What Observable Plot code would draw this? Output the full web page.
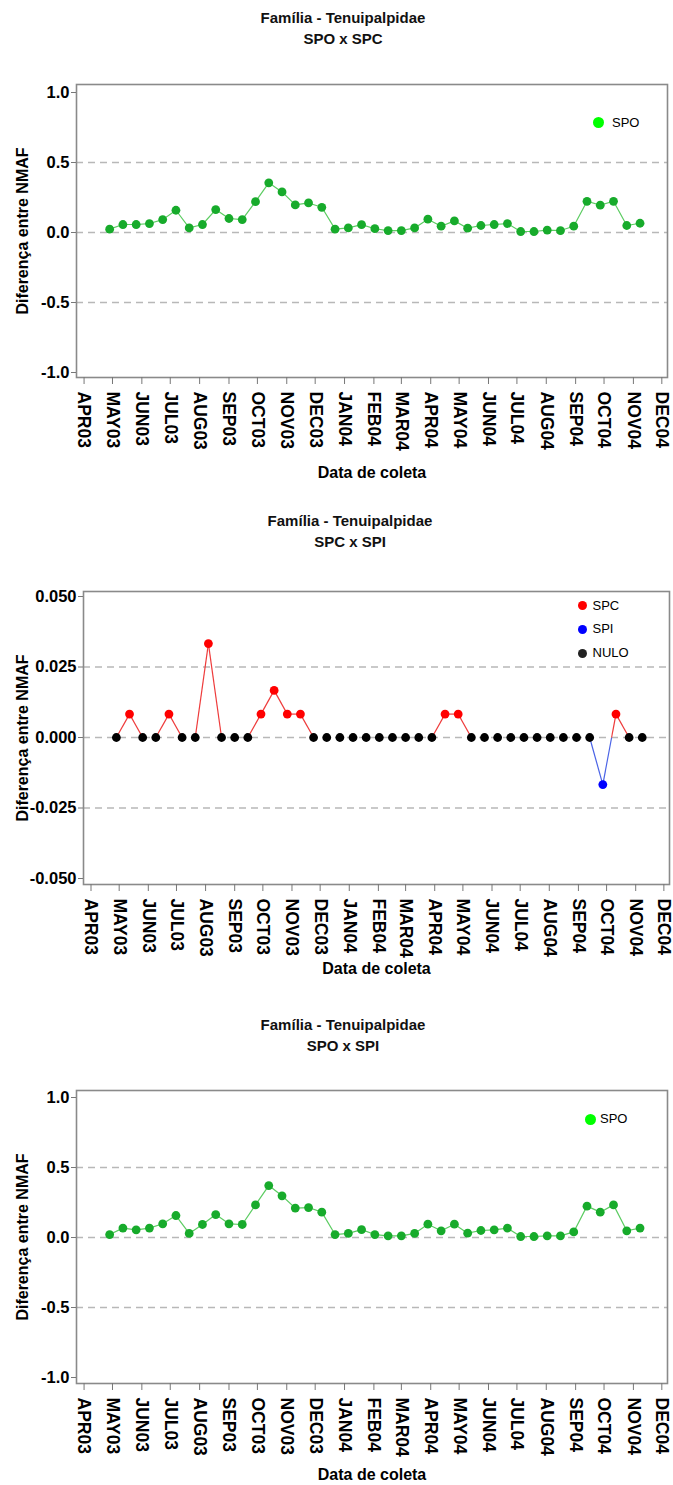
<!DOCTYPE html>
<html>
<head>
<meta charset="utf-8">
<script src="https://cdn.jsdelivr.net/npm/d3@7"></script>
<script src="https://cdn.jsdelivr.net/npm/@observablehq/plot@0.6"></script>
<style>
  body { margin: 0; background: #fff; font-family: "Liberation Sans", Arial, sans-serif; }
  #page { position: relative; width: 673px; height: 1485px; overflow: hidden; background: #fff; }
  .title { position: absolute; transform: translateX(-50%); text-align: center; font-weight: bold;
           font-size: 15px; line-height: 21px; white-space: nowrap; color: #111; }
  .panel { position: absolute; left: 0; }
  .lg { position: absolute; font-size: 13px; color: #000; line-height: 16px; white-space: nowrap; }
  .lgdot { position: absolute; border-radius: 50%; }
</style>
</head>
<body>
<div id="page"></div>
<script>
// ---------- data ----------
const sampleDates = [
  "2003-04-28","2003-05-12","2003-05-26","2003-06-09","2003-06-23","2003-07-07","2003-07-21",
  "2003-08-04","2003-08-18","2003-09-01","2003-09-15","2003-09-29","2003-10-13","2003-10-27",
  "2003-11-10","2003-11-24","2003-12-08","2003-12-22","2004-01-05","2004-01-19","2004-02-02",
  "2004-02-16","2004-03-01","2004-03-15","2004-03-29","2004-04-12","2004-04-26","2004-05-10",
  "2004-05-24","2004-06-07","2004-06-21","2004-07-05","2004-07-19","2004-08-02","2004-08-16",
  "2004-08-30","2004-09-13","2004-09-27","2004-10-11","2004-10-25","2004-11-08"
];
const spoVsSpc = [0.024,0.057,0.057,0.064,0.092,0.159,0.033,0.057,0.164,0.100,0.092,0.220,0.355,0.290,
  0.197,0.211,0.180,0.024,0.033,0.056,0.027,0.014,0.014,0.033,0.095,0.045,0.083,0.031,0.050,0.057,
  0.064,0.007,0.007,0.017,0.014,0.045,0.223,0.195,0.223,0.050,0.066];
const spcVsSpi = [0,0.0083,0,0,0.0083,0,0,0.0333,0,0,0,0.0083,0.0167,0.0083,0.0083,
  0,0,0,0,0,0,0,0,0,0,0.0083,0.0083,0,0,0,0,0,0,0,0,0,0,-0.0167,0.0083,0,0];
const spoVsSpi = [0.021,0.067,0.055,0.067,0.098,0.157,0.029,0.093,0.164,0.098,0.093,0.233,0.371,0.298,
  0.210,0.214,0.181,0.021,0.029,0.056,0.021,0.012,0.012,0.029,0.095,0.048,0.095,0.031,0.050,0.055,
  0.067,0.007,0.007,0.012,0.012,0.040,0.224,0.181,0.233,0.048,0.067];

const monthTicks = ["2003-04-01","2003-05-01","2003-06-01","2003-07-01","2003-08-01","2003-09-01",
  "2003-10-01","2003-11-01","2003-12-01","2004-01-01","2004-02-01","2004-03-01","2004-04-01",
  "2004-05-01","2004-06-01","2004-07-01","2004-08-01","2004-09-01","2004-10-01","2004-11-01","2004-12-01"];
const monthLabels = ["APR03","MAY03","JUN03","JUL03","AUG03","SEP03","OCT03","NOV03","DEC03","JAN04",
  "FEB04","MAR04","APR04","MAY04","JUN04","JUL04","AUG04","SEP04","OCT04","NOV04","DEC04"];

const yTicksWide = [1.0, 0.5, 0.0, -0.5, -1.0];
const yGridWide = [0.5, 0.0, -0.5];
const yTicksNarrow = [0.050, 0.025, 0.000, -0.025, -0.050];
const yGridNarrow = [0.025, 0.000, -0.025];

const titleText = "Família - Tenuipalpidae";
const subtitles = ["SPO x SPC", "SPC x SPI", "SPO x SPI"];
const legendSPO = ["SPO"];
const legendSPC = ["SPC", "SPI", "NULO"];
const xLabel = "Data de coleta";
const yLabel = "Diferença entre NMAF";

// ---------- helpers ----------
const parse = d3.utcParse("%Y-%m-%d");
const tickDates = monthTicks.map(parse);
const labelByTime = new Map(tickDates.map((d, i) => [+d, monthLabels[i]]));
const xDomain = [parse("2003-03-24"), parse("2004-12-07")];
const page = document.getElementById("page");

function rows(values) {
  return sampleDates.map((d, i) => ({date: parse(d), v: values[i]}));
}

function makePlot({marginLeft, marginRight, insetTop, insetBottom, yDomain, yTicks, yGrid, fmt, xLabelOffset, marks}) {
  return Plot.plot({
    width: 673,
    height: 413,
    marginTop: 10,
    marginBottom: 110,
    marginLeft, marginRight,
    style: {fontFamily: "'Liberation Sans', Arial, sans-serif", fontWeight: "bold", fontSize: "16px",
            color: "#000", background: "transparent"},
    x: {type: "utc", domain: xDomain},
    y: {domain: yDomain, insetTop, insetBottom},
    marks: [
      Plot.ruleY(yGrid, {stroke: "#b8b8b8", strokeWidth: 1.5, strokeDasharray: "7,5"}),
      Plot.frame({stroke: "#8a8a8a", strokeWidth: 1.6}),
      Plot.axisY(yTicks, {tickFormat: fmt, tickSize: 5, tickPadding: 2, stroke: "#777", fill: "#000",
        fontSize: 16.5, label: null}),
      Plot.axisY([], {fill: "#000", fontSize: 16, label: yLabel, labelAnchor: "center",
        labelOffset: marginLeft - 16, labelArrow: "none"}),
      Plot.axisX(tickDates, {tickFormat: d => labelByTime.get(+d), tickRotate: 90, tickSize: 7, tickPadding: 7,
        stroke: "#777", fill: "#000", fontSize: 17.5, label: null}),
      Plot.axisX([], {fill: "#000", fontSize: 16, label: xLabel, labelAnchor: "center",
        labelOffset: xLabelOffset, labelArrow: "none"}),
      ...marks
    ]
  });
}

function addPanel(top, svg) {
  const div = document.createElement("div");
  div.className = "panel";
  div.style.top = top + "px";
  div.appendChild(svg);
  page.appendChild(div);
}
function addTitle(cx, top, sub) {
  const t = document.createElement("div");
  t.className = "title";
  t.style.left = cx + "px";
  t.style.top = top + "px";
  t.innerHTML = titleText + "<br>" + sub;
  page.appendChild(t);
}
function addLegend(items, colors, dotX, textX, ys, r) {
  items.forEach((label, i) => {
    const dot = document.createElement("div");
    dot.className = "lgdot";
    dot.style.width = dot.style.height = (2 * r) + "px";
    dot.style.left = (dotX - r) + "px";
    dot.style.top = (ys[i] - r) + "px";
    dot.style.background = colors[i];
    page.appendChild(dot);
    const t = document.createElement("div");
    t.className = "lg";
    t.style.left = textX + "px";
    t.style.top = (ys[i] - 8) + "px";
    t.textContent = label;
    page.appendChild(t);
  });
}

const dotGreen = "#17ab2b";
const lineGreen = "#5ccc62";

// ---------- panel 1 ----------
addTitle(343, 6.5, subtitles[0]);
addPanel(74, makePlot({
  marginLeft: 76, marginRight: 6, insetTop: 8, insetBottom: 5, xLabelOffset: 100,
  yDomain: [-1, 1], yTicks: yTicksWide, yGrid: yGridWide, fmt: d => d.toFixed(1),
  marks: [
    Plot.line(rows(spoVsSpc), {x: "date", y: "v", stroke: lineGreen, strokeWidth: 1.2}),
    Plot.dot(rows(spoVsSpc), {x: "date", y: "v", r: 4.4, fill: dotGreen})
  ]
}));
addLegend(legendSPO, ["#00ff00"], 598.5, 612, [122.5], 5.5);

// ---------- panel 2 ----------
const d2 = rows(spcVsSpi).map(d => ({...d, cat: d.v > 0 ? "SPC" : d.v < 0 ? "SPI" : "NULO"}));
const segs = [];
for (let i = 0; i < d2.length - 1; i++) {
  const a = d2[i], b = d2[i + 1];
  if (a.v === 0 && b.v === 0) continue;
  if (a.v >= 0 && b.v >= 0) segs.push({x1: a.date, y1: a.v, x2: b.date, y2: b.v, c: "SPC"});
  else if (a.v <= 0 && b.v <= 0) segs.push({x1: a.date, y1: a.v, x2: b.date, y2: b.v, c: "SPI"});
  else {
    const t = a.v / (a.v - b.v);
    const xc = new Date(+a.date + t * (b.date - a.date));
    segs.push({x1: a.date, y1: a.v, x2: xc, y2: 0, c: a.v > 0 ? "SPC" : "SPI"});
    segs.push({x1: xc, y1: 0, x2: b.date, y2: b.v, c: b.v > 0 ? "SPC" : "SPI"});
  }
}
const lineCol = {SPC: "#ee3b3b", SPI: "#4a63e6"};
const dotCol = {SPC: "#ff0000", SPI: "#0000ff", NULO: "#000000"};
addTitle(350, 509.5, subtitles[1]);
addPanel(580.5, makePlot({
  marginLeft: 83, marginRight: 4, insetTop: 5, insetBottom: 6, xLabelOffset: 89,
  yDomain: [-0.05, 0.05], yTicks: yTicksNarrow, yGrid: yGridNarrow, fmt: d => d.toFixed(3),
  marks: [
    Plot.link(segs, {x1: "x1", y1: "y1", x2: "x2", y2: "y2", stroke: d => lineCol[d.c], strokeWidth: 1.2}),
    Plot.dot(d2, {x: "date", y: "v", r: 4.4, fill: d => dotCol[d.cat]})
  ]
}));
addLegend(legendSPC, [dotCol.SPC, dotCol.SPI, "#222"], 582.7, 592.5, [605.7, 629.3, 653.3], 4.8);

// ---------- panel 3 ----------
addTitle(343, 1013.5, subtitles[2]);
addPanel(1080, makePlot({
  marginLeft: 76, marginRight: 6, insetTop: 7, insetBottom: 6, xLabelOffset: 96,
  yDomain: [-1, 1], yTicks: yTicksWide, yGrid: yGridWide, fmt: d => d.toFixed(1),
  marks: [
    Plot.line(rows(spoVsSpi), {x: "date", y: "v", stroke: lineGreen, strokeWidth: 1.2}),
    Plot.dot(rows(spoVsSpi), {x: "date", y: "v", r: 4.4, fill: dotGreen})
  ]
}));
addLegend(legendSPO, ["#00ff00"], 590.7, 600, [1119.3], 5.5);
</script>
</body>
</html>
